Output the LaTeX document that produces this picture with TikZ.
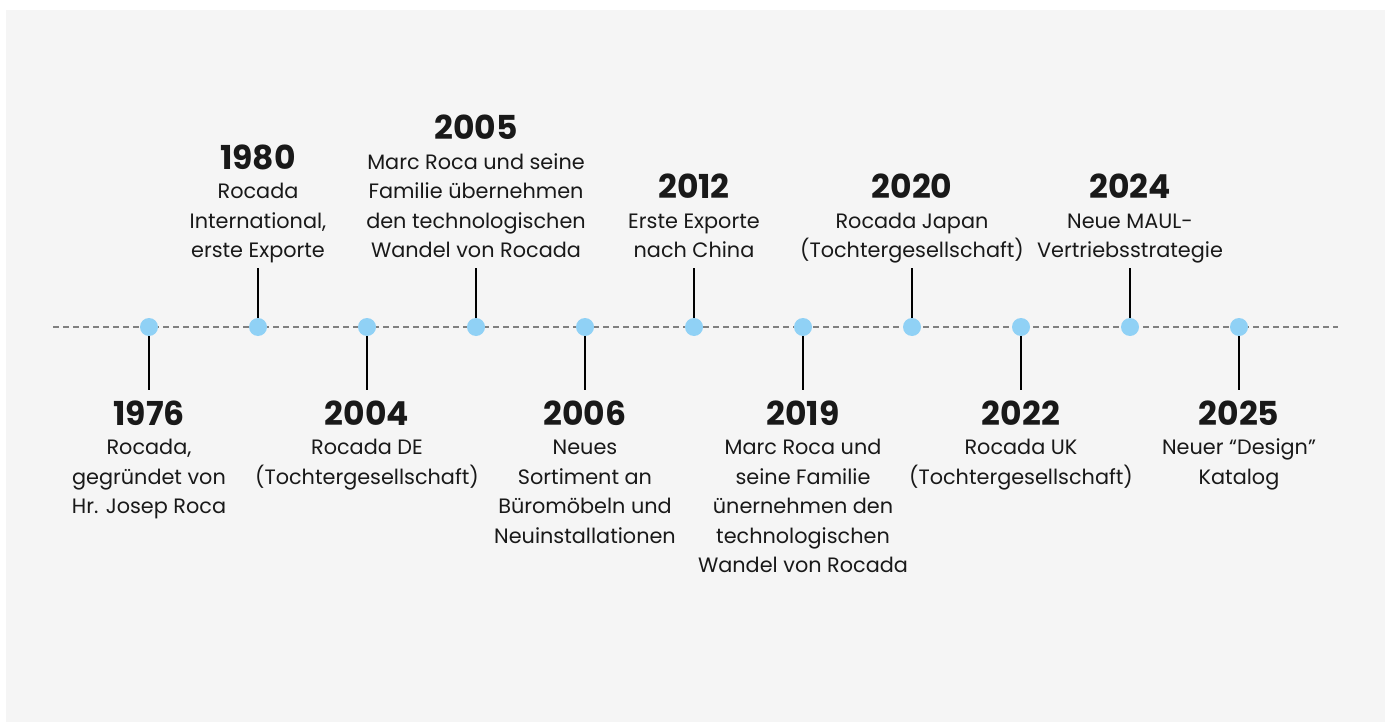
\documentclass[tikz,border=0pt]{standalone}
\usepackage{fontspec}
\setmainfont{Poppins}
\usetikzlibrary{positioning}
\definecolor{bggrey}{HTML}{F5F5F5}
\definecolor{dotblue}{HTML}{90D1F5}
\definecolor{dashgrey}{HTML}{808080}
\newcommand{\yr}[1]{{\fontsize{33}{29.5}\selectfont\bfseries #1}}
\tikzset{
	dot/.style={circle,fill=dotblue,minimum size=18pt,inner sep=0pt},
	evt/.style={align=center,inner sep=0pt,text=black!90,font=\fontsize{20.8}{29.5}\selectfont},
	evtup/.style={evt,text depth=6pt},
	stem/.style={line width=1.4pt,black},
}

\begin{document}
\begin{tikzpicture}[x=1pt,y=-1pt,node distance=109pt]
		\fill[white] (0,0) rectangle (1389,722);
		\fill[bggrey] (6,10) rectangle (1385,722);
		\useasboundingbox (0,0) rectangle (1389,722);
		
		\coordinate (lend) at (53,327);
		\coordinate (rend) at (1338,327);
		\draw[dashgrey,line width=1.3pt,dash pattern=on 6pt off 4pt] (lend) -- (rend);
		
		\node[dot](d1) at (149,327) {};
		\node[dot](d2) [right of = d1] {};
		\node[dot](d3) [right of = d2] {};
		\node[dot](d4) [right of = d3] {};
		\node[dot](d5) [right of = d4] {};
		\node[dot](d6) [right of = d5] {};
		\node[dot](d7) [right of = d6] {};
		\node[dot](d8) [right of = d7] {};
		\node[dot](d9) [right of = d8] {};
		\node[dot](d10) [right of = d9] {};
		\node[dot](d11) [right of = d10] {};
		
		% below the line
		\node[evt](e1) [below=64pt of d1] {\yr{1976}\\Rocada,\\gegründet von\\Hr. Josep Roca};
		\node[evt](e3) [below=64pt of d3] {\yr{2004}\\Rocada DE\\(Tochtergesellschaft)};
		\node[evt](e5) [below=64pt of d5] {\yr{2006}\\Neues\\Sortiment an\\Büromöbeln und\\Neuinstallationen};
		\node[evt](e7) [below=64pt of d7] {\yr{2019}\\Marc Roca und\\seine Familie\\ünernehmen den\\technologischen\\Wandel von Rocada};
		\node[evt](e9) [below=64pt of d9] {\yr{2022}\\Rocada UK\\(Tochtergesellschaft)};
		\node[evt](e11) [below=64pt of d11] {\yr{2025}\\Neuer “Design”\\Katalog};
		
		% above the line
		\node[evtup](e2) [above=54pt of d2] {\yr{1980}\\Rocada\\International,\\erste Exporte};
		\node[evtup](e4) [above=54pt of d4] {\yr{2005}\\Marc Roca und seine\\Familie übernehmen\\den technologischen\\Wandel von Rocada};
		\node[evtup](e6) [above=54pt of d6] {\yr{2012}\\Erste Exporte\\nach China};
		\node[evtup](e8) [above=54pt of d8] {\yr{2020}\\Rocada Japan\\(Tochtergesellschaft)};
		\node[evtup](e10) [above=54pt of d10] {\yr{2024}\\Neue MAUL-\\Vertriebsstrategie};
		
		\begin{scope}[shorten >=10pt]
		\draw[stem] (d1) -- (e1.north);
		\draw[stem] (d3) -- (e3.north);
		\draw[stem] (d5) -- (e5.north);
		\draw[stem] (d7) -- (e7.north);
		\draw[stem] (d9) -- (e9.north);
		\draw[stem] (d11) -- (e11.north);
		\end{scope}
		\begin{scope}[shorten >=4pt]
		\draw[stem] (d2) -- (e2.south);
		\draw[stem] (d4) -- (e4.south);
		\draw[stem] (d6) -- (e6.south);
		\draw[stem] (d8) -- (e8.south);
		\draw[stem] (d10) -- (e10.south);
		\end{scope}
\end{tikzpicture}
\end{document}
